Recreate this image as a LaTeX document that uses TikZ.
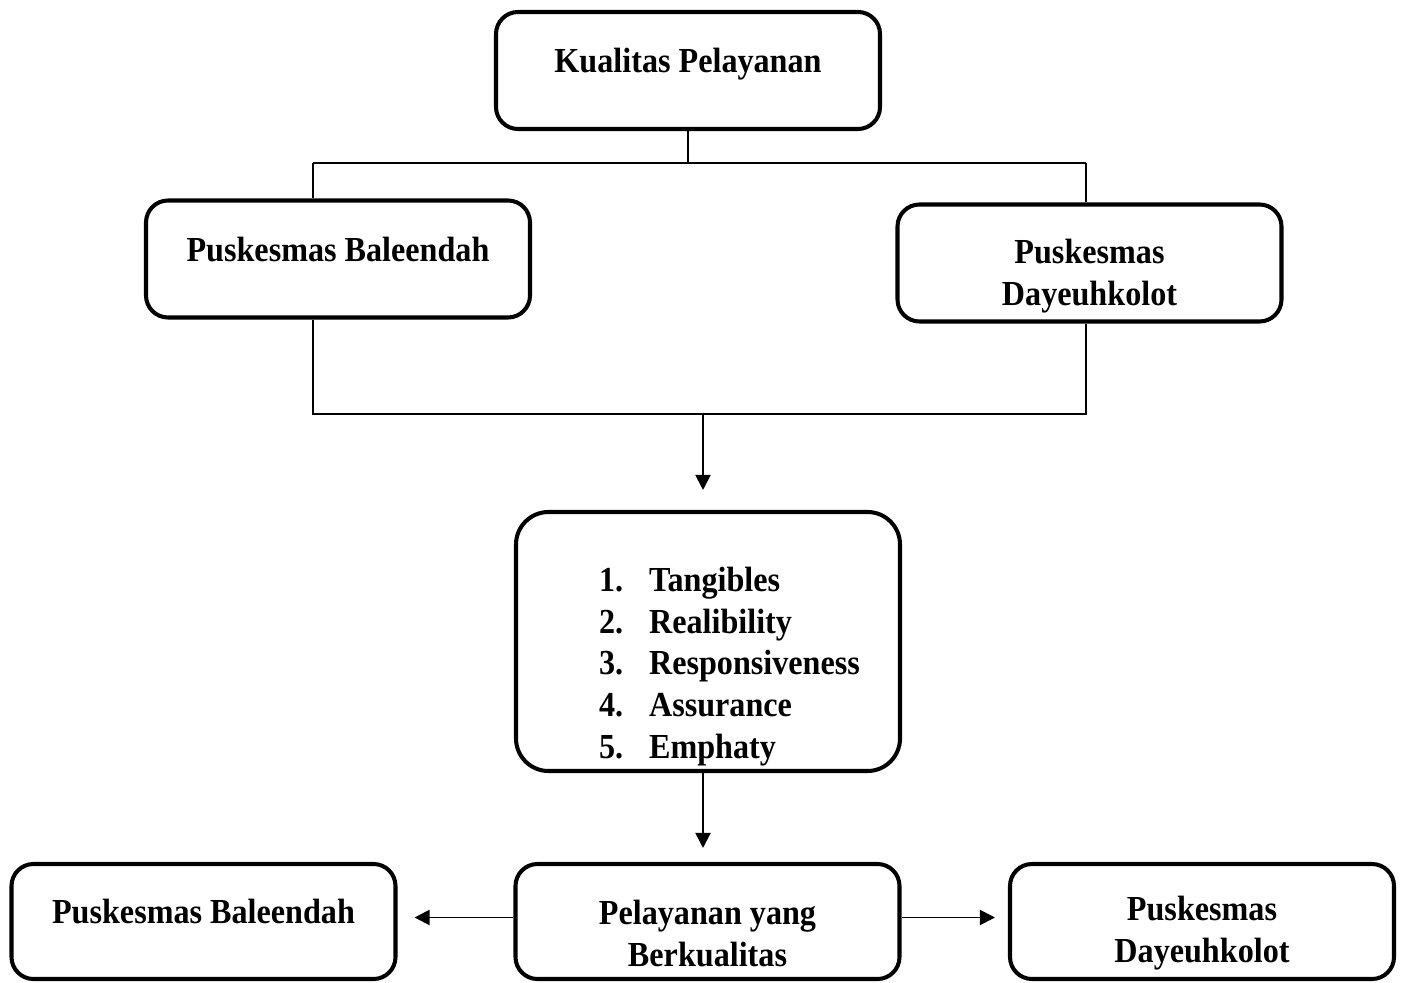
\documentclass[tikz,border=0pt]{standalone}
\usepackage{fontspec}
\setmainfont{Liberation Serif}[FakeStretch=0.915]
\usetikzlibrary{arrows.meta,positioning}

\begin{document}
\begin{tikzpicture}[x=0.2mm,y=-0.2mm,>={Triangle[length=3mm,width=3mm]},
                    line width=1.1pt]
  \tikzstyle{txt}=[font=\fontsize{20}{23.8}\selectfont\bfseries,align=center]
  \tikzstyle{box}=[draw,line width=2.3pt,rounded corners=4.4mm,
                   minimum width=7.68cm,minimum height=2.34cm]
  \useasboundingbox (0,0) rectangle (1406,983);

  \node[box,label={[txt,yshift=1.3mm]center:Kualitas Pelayanan}] (kp) at (688,70.5) {};
  \node[box,label={[txt,yshift=1.8mm]center:Puskesmas Baleendah}] (pb1) at (338,259) {};
  \node[box,label={[txt,yshift=-2.6mm]center:Puskesmas\\Dayeuhkolot}] (pd1) at (1089.5,263) {};
  \node[box,minimum height=5.18cm,rounded corners=6.5mm] (dim) at (708,641.5) {};
  \node[txt,align=left] (list) at ([xshift=4.3mm,yshift=-5mm]dim.center)
    {\begin{tabular}{@{}p{1cm}@{}l@{}}
      1. & Tangibles\\
      2. & Realibility\\
      3. & Responsiveness\\
      4. & Assurance\\
      5. & Emphaty
    \end{tabular}};
  \node[box,minimum height=2.3cm,label={[txt,yshift=1.9mm]center:Puskesmas Baleendah}] (pb2) at (203.5,921.5) {};
  \node[box,minimum height=2.3cm,label={[txt,yshift=-2.4mm]center:Pelayanan yang\\Berkualitas}] (pyb) at (707.5,921.5) {};
  \node[box,minimum height=2.3cm,label={[txt,yshift=-2.4mm]center:Puskesmas\\Dayeuhkolot}] (pd2) at (1202,921.5) {};

  \coordinate (tl) at (313,163);
  \coordinate (tr) at (1086,163);
  \coordinate (bl) at (313,414);
  \coordinate (br) at (1086,414);
  \coordinate (bm) at (703,414);

  \draw (kp.south) -- (kp.south |- tl);
  \draw (tl) -- (tr);
  \draw (tl) -- (tl |- pb1.north);
  \draw (tr) -- (tr |- pd1.north);
  \draw (bl |- pb1.south) -- (bl) -- (br) -- (br |- pd1.south);
  \draw[->] (bm) -- ([yshift=4mm]dim.north -| bm);
  \draw[->] (dim.south -| bm) -- ([yshift=2.8mm]pyb.north -| bm);
  \draw[->] ([yshift=0.8mm]pyb.west) -- ([xshift=3.4mm,yshift=0.8mm]pb2.east);
  \draw[->] ([yshift=0.8mm]pyb.east) -- ([xshift=-2.6mm,yshift=0.8mm]pd2.west);

\end{tikzpicture}
\end{document}
